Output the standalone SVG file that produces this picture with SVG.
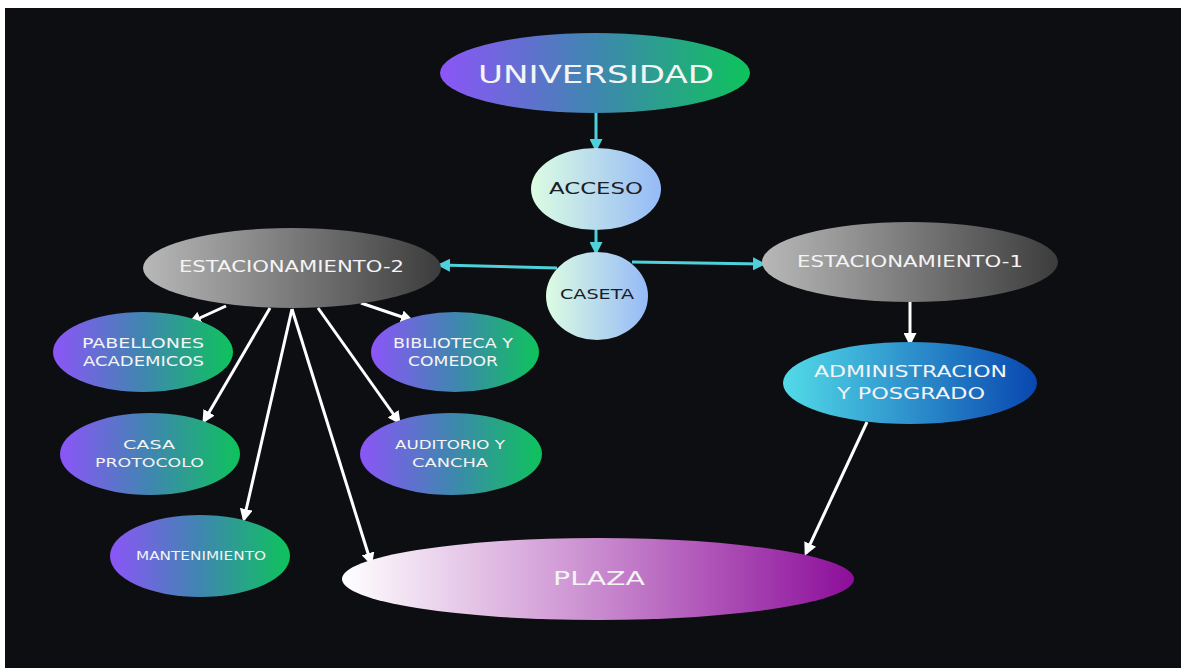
<svg xmlns="http://www.w3.org/2000/svg" width="1181" height="668" viewBox="0 0 1181 668">
<defs>
<linearGradient id="gPG" x1="0" y1="0" x2="1" y2="0"><stop offset="0" stop-color="#8c55f8"/><stop offset="0.5" stop-color="#3f86b0"/><stop offset="1" stop-color="#0ec35c"/></linearGradient>
<linearGradient id="gMint" x1="0" y1="0" x2="1" y2="0"><stop offset="0" stop-color="#dcfce2"/><stop offset="1" stop-color="#95baf7"/></linearGradient>
<linearGradient id="gGray" x1="0" y1="0" x2="1" y2="0"><stop offset="0" stop-color="#b8b8b8"/><stop offset="1" stop-color="#3c3c3c"/></linearGradient>
<linearGradient id="gBlue" x1="0" y1="0" x2="1" y2="0"><stop offset="0" stop-color="#52dbe8"/><stop offset="1" stop-color="#0947b0"/></linearGradient>
<linearGradient id="gPlaza" x1="0" y1="0" x2="1" y2="0"><stop offset="0" stop-color="#ffffff"/><stop offset="0.45" stop-color="#cf97d4"/><stop offset="1" stop-color="#8c0e9a"/></linearGradient>
<marker id="aC" markerUnits="userSpaceOnUse" markerWidth="13" markerHeight="13" refX="10" refY="6.5" orient="auto"><path d="M0,0 L13,6.5 L0,13 z" fill="#4fd1dc"/></marker>
<marker id="aW" markerUnits="userSpaceOnUse" markerWidth="13" markerHeight="13" refX="10" refY="6.5" orient="auto"><path d="M0,0 L13,6.5 L0,13 z" fill="#ffffff"/></marker>
<style>
text{font-family:"DejaVu Sans","Liberation Sans",sans-serif;text-anchor:middle;fill:#f4f4f4}
.dark{fill:#1c1d28}
.cy{stroke:#4fd1dc;stroke-width:3;fill:none;marker-end:url(#aC)}
.wh{stroke:#ffffff;stroke-width:3;fill:none;marker-end:url(#aW)}
</style>
</defs>
<rect x="0" y="0" width="1181" height="668" fill="#ffffff"/>
<rect x="5" y="8" width="1176" height="660" fill="#0d0e12"/>
<g id="connectors">
<line class="cy" x1="596" y1="113" x2="596" y2="149"/>
<line class="cy" x1="596" y1="230" x2="596" y2="252"/>
<line class="cy" x1="557" y1="268" x2="440" y2="265"/>
<line class="cy" x1="632" y1="262" x2="763" y2="264"/>
<line class="wh" x1="910" y1="302" x2="910" y2="343"/>
<line class="wh" x1="867" y1="422" x2="806" y2="553"/>
<line class="wh" x1="226" y1="306" x2="191" y2="322"/>
<line class="wh" x1="361" y1="303" x2="411" y2="320"/>
<line class="wh" x1="270" y1="308" x2="204" y2="421"/>
<line class="wh" x1="292" y1="309" x2="244" y2="519"/>
<line class="wh" x1="292" y1="309" x2="371" y2="563"/>
<line class="wh" x1="318" y1="308" x2="399" y2="422"/>
</g>
<g id="universidad"><ellipse cx="595" cy="73" rx="155" ry="40" fill="url(#gPG)"/><text x="596" y="83" font-size="25" textLength="236" lengthAdjust="spacingAndGlyphs">UNIVERSIDAD</text></g>
<g id="acceso"><ellipse cx="596" cy="189" rx="65" ry="41" fill="url(#gMint)"/><text class="dark" x="596" y="194" font-size="15" textLength="94" lengthAdjust="spacingAndGlyphs">ACCESO</text></g>
<g id="caseta"><ellipse cx="597" cy="296" rx="51" ry="44" fill="url(#gMint)"/><text class="dark" x="597" y="299" font-size="14" textLength="74" lengthAdjust="spacingAndGlyphs">CASETA</text></g>
<g id="estacionamiento2"><ellipse cx="292" cy="268" rx="149" ry="40" fill="url(#gGray)"/><text x="291.5" y="272" font-size="15" textLength="225" lengthAdjust="spacingAndGlyphs">ESTACIONAMIENTO-2</text></g>
<g id="estacionamiento1"><ellipse cx="910" cy="262" rx="148" ry="40" fill="url(#gGray)"/><text x="910" y="267" font-size="15" textLength="226" lengthAdjust="spacingAndGlyphs">ESTACIONAMIENTO-1</text></g>
<g id="administracion"><ellipse cx="910" cy="383" rx="127" ry="41" fill="url(#gBlue)"/><text x="910.5" y="377" font-size="15" textLength="193" lengthAdjust="spacingAndGlyphs">ADMINISTRACION</text><text x="911" y="399" font-size="15" textLength="148" lengthAdjust="spacingAndGlyphs">Y POSGRADO</text></g>
<g id="pabellones"><ellipse cx="143" cy="352" rx="90" ry="40" fill="url(#gPG)"/><text x="143" y="348" font-size="14" textLength="122" lengthAdjust="spacingAndGlyphs">PABELLONES</text><text x="143.5" y="366" font-size="14" textLength="121" lengthAdjust="spacingAndGlyphs">ACADEMICOS</text></g>
<g id="biblioteca"><ellipse cx="455" cy="352" rx="84" ry="40" fill="url(#gPG)"/><text x="453" y="348" font-size="14" textLength="120" lengthAdjust="spacingAndGlyphs">BIBLIOTECA Y</text><text x="453" y="366" font-size="14" textLength="90" lengthAdjust="spacingAndGlyphs">COMEDOR</text></g>
<g id="casa"><ellipse cx="150" cy="454" rx="90" ry="41" fill="url(#gPG)"/><text x="149" y="449" font-size="13" textLength="52" lengthAdjust="spacingAndGlyphs">CASA</text><text x="149.5" y="467" font-size="13" textLength="109" lengthAdjust="spacingAndGlyphs">PROTOCOLO</text></g>
<g id="auditorio"><ellipse cx="451" cy="454" rx="91" ry="41" fill="url(#gPG)"/><text x="450" y="449" font-size="13" textLength="110" lengthAdjust="spacingAndGlyphs">AUDITORIO Y</text><text x="450" y="467" font-size="13" textLength="76" lengthAdjust="spacingAndGlyphs">CANCHA</text></g>
<g id="mantenimiento"><ellipse cx="200" cy="556" rx="90" ry="41" fill="url(#gPG)"/><text x="201" y="560" font-size="12.5" textLength="130" lengthAdjust="spacingAndGlyphs">MANTENIMIENTO</text></g>
<g id="plaza"><ellipse cx="598" cy="579" rx="256" ry="41" fill="url(#gPlaza)"/><text x="599" y="585" font-size="19" textLength="92" lengthAdjust="spacingAndGlyphs">PLAZA</text></g>
</svg>
